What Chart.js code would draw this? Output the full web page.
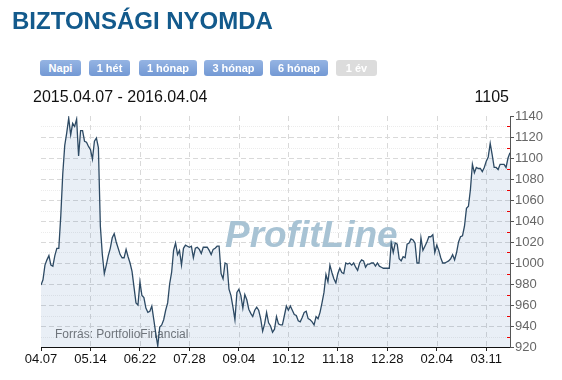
<!DOCTYPE html>
<html><head><meta charset="utf-8">
<script src="https://cdn.jsdelivr.net/npm/chart.js@4/dist/chart.umd.min.js"></script>
<style>
html,body{margin:0;padding:0;background:#fff;width:562px;height:380px;overflow:hidden;font-family:"Liberation Sans",Arial,sans-serif;}
#wrap{position:relative;width:562px;height:380px;}
canvas{position:absolute;left:0;top:0;}
.t{position:absolute;white-space:nowrap;}
#title{left:12px;top:8.5px;font-size:24px;line-height:24px;font-weight:bold;color:#135a8c;}
.btn{position:absolute;top:60px;height:16px;line-height:16px;font-size:11px;font-weight:bold;color:#fff;text-align:center;border-radius:3px;background:linear-gradient(#95b4e3,#7399d4);}
.btn.off{background:#dcdcdc;}
#range{left:33px;top:88.5px;font-size:16px;line-height:16px;color:#111;}
#last{right:53px;top:88.5px;font-size:16px;line-height:16px;color:#111;}
</style></head>
<body><div id="wrap">
<canvas id="c" width="562" height="380"></canvas>
<div class="t" id="title">BIZTONSÁGI NYOMDA</div>
<div id="btns"></div>
<div class="t" id="range">2015.04.07 - 2016.04.04</div>
<div class="t" id="last">1105</div>
</div>
<script>
// ---- data ----
const tickLabels = ["04.07","05.14","06.22","07.28","09.04","10.12","11.18","12.28","02.04","03.11"];
const tickEvery = 25;
const aprJun = [979,984,998,1003,1007,998,997,1007,1014,1014,
 1045,1085,1112,1124,1138,1122,1133,1130,1137,1102,
 1126,1126,1116,1115,1111,1108,1099,1116,1119,1110,
 1035,1008,990,998,1007,1014,1024,1028,1020,1014,
 1008,1005,1005,1013,1006,1000,992,977,962,960,
 982,969,967,957,953,954,959,946,933,921];
const julSep = [939,941,946,955,962,980,991,1012,1019,1008,
 1012,998,1014,1017,1016,1015,1016,1005,1014,1015,
 1013,1009,1015,1015,1015,1012,1008,1013,1014,1016,
 1016,990,985,1000,999,975,969,958,946,972,
 975,969,957,970,965,956,952,949,955,958,
 955,947,935,942,953,943,940,934,937,949];
const octDec = [942,941,941,950,959,955,959,955,951,950,
 945,944,948,953,954,947,946,944,941,949,
 947,953,962,972,989,982,998,991,985,981,
 990,995,991,990,1000,999,1000,998,1000,996,
 993,1000,1003,1002,996,999,999,1000,1000,997,
 1000,997,996,995,995,995,995];
const janApr = [1019,1010,1019,
 1018,1004,1002,1006,1005,1018,1019,1023,1022,1019,
 1000,1000,1024,1012,1016,1020,1025,1025,1027,1010,
 1017,1012,1005,1000,1000,1001,1002,1004,1008,1003,
 1010,1020,1025,1026,1035,1052,1054,1070,1094,1086,
 1091,1090,1090,1087,1091,1097,1101,1114,1103,1091,
 1091,1089,1094,1094,1094,1091,1100,1105];
const closes = [...aprJun, ...julSep, ...octDec, ...janApr];
const yMin = 920, yMax = 1140, yStep = 20;
const buttons = [["Napi",40,41],["1 hét",89,41],["1 hónap",139,58],["3 hónap",204,59],["6 hónap",270,58],["1 év",336,41,true]];

// ---- buttons ----
const bw = document.getElementById('btns');
buttons.forEach(([t,l,w,off]) => {
  const d = document.createElement('div');
  d.className = 'btn' + (off ? ' off' : '');
  d.style.left = l + 'px'; d.style.width = w + 'px';
  d.textContent = t; bw.appendChild(d);
});

const FONT = '"Liberation Sans", Arial, sans-serif';
const deco = {
  id: 'deco',
  beforeDatasetsDraw(chart) {
    const {ctx, chartArea: a, scales: {x, y}} = chart;
    ctx.save();
    ctx.lineWidth = 1;
    for (let v = yMin + 10; v < yMax; v += 10) {
      const py = Math.round(y.getPixelForValue(v)) + 0.5;
      if (v % 20 === 0) { ctx.strokeStyle = '#d9d9d9'; ctx.setLineDash([5, 3]); }
      else { ctx.strokeStyle = '#ececec'; ctx.setLineDash([1, 1]); }
      ctx.beginPath(); ctx.moveTo(a.left, py); ctx.lineTo(a.right, py); ctx.stroke();
    }
    ctx.strokeStyle = '#d9d9d9'; ctx.setLineDash([5, 4]);
    for (let i = 1; i < tickLabels.length; i++) {
      const px = Math.round(x.getPixelForValue(i * tickEvery)) + 0.5;
      ctx.beginPath(); ctx.moveTo(px, a.top); ctx.lineTo(px, a.bottom); ctx.stroke();
    }
    ctx.setLineDash([]);
    ctx.fillStyle = '#a8c3d4';
    ctx.font = 'italic bold 37px ' + FONT;
    ctx.textBaseline = 'alphabetic';
    ctx.fillText('ProfitLine', 225, 247);
    ctx.fillStyle = '#777';
    ctx.font = '12px ' + FONT;
    ctx.fillText('Forrás: PortfolioFinancial', 55, 337.5);
    ctx.restore();
  },
  afterDraw(chart) {
    const {ctx, chartArea: a, scales: {y}} = chart;
    ctx.save();
    ctx.strokeStyle = '#e00'; ctx.lineWidth = 1;
    for (let v = yMin + 10; v < yMax; v += 20) {
      const py = Math.round(y.getPixelForValue(v)) + 0.5;
      ctx.beginPath(); ctx.moveTo(a.right - 3, py); ctx.lineTo(a.right, py); ctx.stroke();
    }
    ctx.restore();
  }
};

new Chart(document.getElementById('c'), {
  type: 'line',
  data: {
    labels: closes.map((_, i) => i),
    datasets: [{
      data: closes.map((v, i) => ({x: i, y: v})),
      borderColor: '#2d4a64', borderWidth: 1.3,
      backgroundColor: 'rgba(40,100,170,0.1)',
      fill: 'start', pointRadius: 0, tension: 0
    }]
  },
  plugins: [deco],
  options: {
    responsive: false, animation: false, devicePixelRatio: 1,
    layout: {padding: {left: 41, top: 116, right: 0, bottom: 0}},
    plugins: {legend: {display: false}, tooltip: {enabled: false}},
    scales: {
      x: {
        type: 'linear', min: 0, max: closes.length - 1,
        afterBuildTicks: s => { s.ticks = tickLabels.map((_, i) => ({value: i * tickEvery})); },
        ticks: {autoSkip: false, maxRotation: 0, padding: 1,
          color: '#111', font: {family: FONT, size: 13},
          callback: v => tickLabels[Math.round(v / tickEvery)] ?? ''},
        grid: {drawOnChartArea: false, drawTicks: true, tickLength: 4, color: '#222'},
        border: {color: '#111', width: 1},
        afterFit: s => { s.height = 33; }
      },
      y: {
        position: 'right', min: yMin, max: yMax,
        ticks: {stepSize: yStep, padding: 1, color: '#666', font: {family: FONT, size: 13},
          callback: v => String(v)},
        grid: {drawOnChartArea: false, drawTicks: true, tickLength: 4, color: '#555'},
        border: {color: '#555', width: 1},
        afterFit: s => { s.width = 52; }
      }
    }
  }
});
</script>
</body></html>
